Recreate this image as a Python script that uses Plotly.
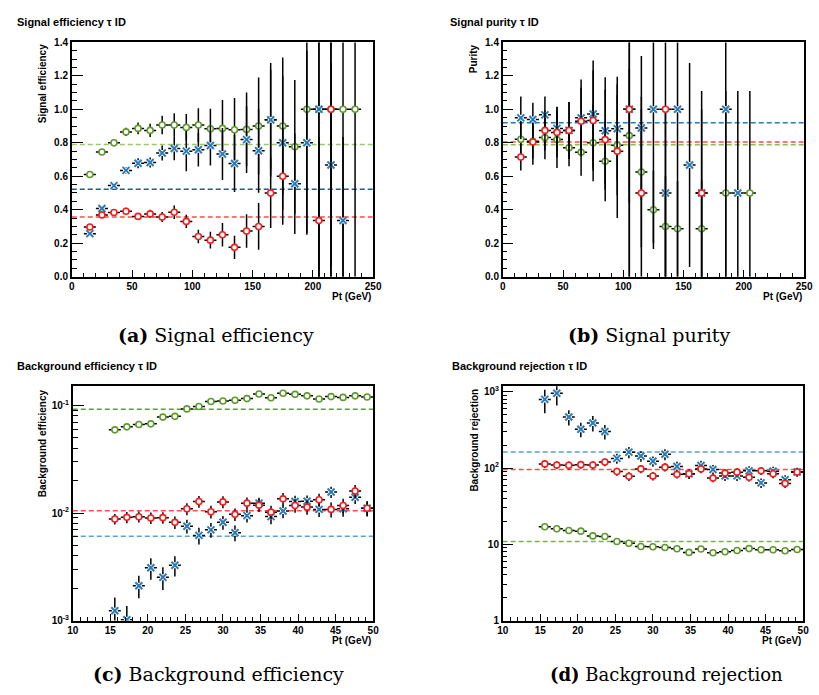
import plotly.graph_objects as go

# ---------------- data ----------------
# Signal efficiency vs Pt (GeV), bins of 10 GeV
eff_green_x = [15, 25, 35, 45, 55, 65, 75, 85, 95, 105, 115, 125, 135, 145, 155, 165, 175, 185, 195, 205, 215, 225, 235]
eff_green_y = [0.61, 0.745, 0.80, 0.865, 0.886, 0.874, 0.906, 0.906, 0.892, 0.906, 0.884, 0.886, 0.878, 0.88, 0.90, 0.937, 0.90, 0.776, 1.0, 1.0, 1.0, 1.0, 1.0]
eff_green_err = [0.02, 0.015, 0.02, 0.025, 0.035, 0.04, 0.055, 0.07, 0.08, 0.10, 0.12, 0.17, 0.19, 0.22, 0.29, 0.34, 0.41, 0.40, 0.74, 1.0, 1.0, 1.0, 1.0]
eff_blue_x = [15, 25, 35, 45, 55, 65, 75, 85, 95, 105, 115, 125, 135, 145, 155, 165, 175, 185, 195, 205, 215, 225]
eff_blue_y = [0.257, 0.407, 0.544, 0.635, 0.678, 0.682, 0.739, 0.766, 0.75, 0.758, 0.784, 0.733, 0.676, 0.819, 0.752, 0.937, 0.80, 0.555, 0.80, 1.0, 0.667, 0.335]
eff_blue_err = [0.01, 0.015, 0.015, 0.02, 0.03, 0.03, 0.045, 0.07, 0.12, 0.10, 0.12, 0.155, 0.17, 0.20, 0.25, 0.30, 0.40, 0.30, 0.55, 1.0, 0.61, 0.5]
eff_red_x = [15, 25, 35, 45, 55, 65, 75, 85, 95, 105, 115, 125, 135, 145, 155, 165, 175, 205, 215]
eff_red_y = [0.297, 0.369, 0.383, 0.391, 0.36, 0.375, 0.356, 0.385, 0.33, 0.24, 0.218, 0.25, 0.175, 0.273, 0.30, 0.50, 0.60, 0.335, 1.0]
eff_red_err = [0.01, 0.015, 0.015, 0.02, 0.02, 0.025, 0.03, 0.04, 0.04, 0.04, 0.05, 0.07, 0.07, 0.10, 0.14, 0.21, 0.29, 0.5, 1.0]
eff_mean = {"green": 0.79, "blue": 0.522, "red": 0.357}

# Signal purity vs Pt (GeV)
pur_green_x = [15, 25, 35, 45, 55, 65, 75, 85, 95, 105, 115, 125, 135, 145, 165, 185, 205]
pur_green_y = [0.821, 0.809, 0.831, 0.819, 0.77, 0.743, 0.80, 0.69, 0.786, 0.843, 0.625, 0.40, 0.30, 0.286, 0.286, 0.5, 0.5]
pur_green_err = [0.10, 0.14, 0.13, 0.17, 0.11, 0.14, 0.23, 0.24, 0.30, 0.40, 0.45, 0.235, 0.30, 0.286, 0.29, 0.61, 0.61]
pur_blue_x = [15, 25, 35, 45, 55, 65, 75, 85, 95, 105, 115, 125, 135, 145, 155, 165, 185, 195]
pur_blue_y = [0.949, 0.939, 0.967, 0.886, 0.874, 0.949, 0.972, 0.872, 0.884, 1.0, 0.888, 1.0, 0.5, 1.0, 0.667, 0.5, 1.0, 0.5]
pur_blue_err = [0.128, 0.10, 0.11, 0.13, 0.17, 0.23, 0.32, 0.32, 0.31, 1.0, 0.43, 0.8, 0.5, 1.0, 0.61, 0.5, 1.0, 0.61]
pur_red_x = [15, 25, 35, 45, 55, 65, 75, 85, 95, 105, 115, 135, 165]
pur_red_y = [0.715, 0.805, 0.874, 0.862, 0.874, 0.929, 0.933, 0.819, 0.75, 1.0, 0.5, 1.0, 0.5]
pur_red_err = [0.08, 0.10, 0.12, 0.15, 0.17, 0.20, 0.30, 0.30, 0.40, 1.0, 0.5, 1.0, 0.61]
pur_mean = {"green": 0.788, "blue": 0.92, "red": 0.805}

# Background efficiency / rejection vs Pt (GeV), bins of 1.6 GeV
bkg_x = [15.6, 17.2, 18.8, 20.4, 22.0, 23.6, 25.2, 26.8, 28.4, 30.0, 31.6,
         33.2, 34.8, 36.4, 38.0, 39.6, 41.2, 42.8, 44.4, 46.0, 47.6, 49.2]
beff_green_y = [0.0594, 0.0633, 0.0665, 0.0675, 0.078, 0.0793, 0.093, 0.098, 0.109, 0.110, 0.112,
                0.116, 0.128, 0.118, 0.130, 0.127, 0.123, 0.115, 0.121, 0.119, 0.123, 0.120]
beff_green_err = [0.002, 0.002, 0.002, 0.002, 0.0025, 0.0025, 0.003, 0.003, 0.0035, 0.0035, 0.0035,
                  0.004, 0.004, 0.004, 0.0045, 0.0045, 0.0045, 0.004, 0.0045, 0.0045, 0.0045, 0.0045]
beff_red_y = [0.00881, 0.00912, 0.00925, 0.0090, 0.00906, 0.0082, 0.01096, 0.0128, 0.01028, 0.0127, 0.00973,
              0.01236, 0.01184, 0.0102, 0.01355, 0.01177, 0.01136, 0.01328, 0.01081, 0.01177, 0.01603, 0.0111]
beff_red_err = [0.0010, 0.0011, 0.0011, 0.0011, 0.0011, 0.0011, 0.0014, 0.0016, 0.0014, 0.0016, 0.0013,
                0.0016, 0.0016, 0.0015, 0.0018, 0.0017, 0.0017, 0.0018, 0.0017, 0.0018, 0.0022, 0.0018]
beff_blue_y = [0.001236, 0.00102, 0.00211, 0.0031, 0.00253, 0.00327, 0.00755, 0.0062, 0.00698, 0.0082, 0.00656,
               0.00946, 0.01236, 0.00927, 0.01045, 0.0128, 0.01288, 0.01081, 0.0157, 0.01096, 0.01402, 0.0111]
beff_blue_err = [0.0004, 0.00035, 0.0005, 0.0007, 0.0006, 0.0007, 0.0011, 0.0011, 0.0011, 0.0012, 0.0011,
                 0.0013, 0.0015, 0.0014, 0.0015, 0.0017, 0.0017, 0.0016, 0.0019, 0.0017, 0.0019, 0.0017]
beff_mean = {"green": 0.0925, "blue": 0.0061, "red": 0.0105}

brej_blue_y = [796, 961, 467, 324, 391, 302, 134, 162, 144, 123, 152,
               105, 84, 108, 96, 79, 79, 92, 64, 91, 70.5, 89]
brej_blue_err = [270, 300, 105, 70, 90, 65, 20, 27, 23, 19, 25,
                 16, 12, 17, 14, 11, 11, 14, 9, 13, 10, 12]
brej_red_y = [113.5, 110, 109, 111, 110, 120, 90.3, 78, 97.7, 78.7, 103,
              82.8, 84.5, 97.7, 74, 86, 88.5, 75.7, 92, 84.5, 63, 89]
brej_red_err = [13, 13, 13, 13, 13, 14, 11, 10, 12, 10, 13,
                10, 11, 12, 9, 11, 11, 9, 11, 11, 8, 11]
brej_green_y = [17.0, 16.0, 15.2, 14.9, 12.9, 12.7, 10.9, 10.35, 9.37, 9.29, 9.1,
                8.75, 7.84, 8.7, 7.76, 8.0, 8.3, 8.8, 8.5, 8.5, 8.25, 8.57]
brej_green_err = [0.5, 0.5, 0.45, 0.45, 0.4, 0.4, 0.35, 0.32, 0.3, 0.3, 0.28,
                  0.27, 0.25, 0.27, 0.24, 0.25, 0.26, 0.27, 0.26, 0.26, 0.25, 0.26]
brej_mean = {"green": 10.9, "blue": 163, "red": 96}

sig_half_bin = 5.0
bkg_half_bin = 0.8
sig_xrange = [0, 250]
bkg_xrange = [10, 50]

# tick labels
sig_xticks = [0, 50, 100, 150, 200, 250]
sig_yticks = [0.0, 0.2, 0.4, 0.6, 0.8, 1.0, 1.2, 1.4]
bkg_xticks = [10, 15, 20, 25, 30, 35, 40, 45, 50]
beff_yticks = [0.001, 0.01, 0.1]
beff_ylabels = ["10<sup>-3</sup>", "10<sup>-2</sup>", "10<sup>-1</sup>"]
brej_yticks = [1, 10, 100, 1000]
brej_ylabels = ["1", "10", "10<sup>2</sup>", "10<sup>3</sup>"]

# ---------------- styles ----------------
W, H = 819, 695
GREEN, BLUE, RED = "#5f9b2c", "#2a7db8", "#ff1a1a"
FONT = "Liberation Sans"

fig = go.Figure()


def add_points(ax, x, y, err, half, kind):
    color = {"green": GREEN, "blue": BLUE, "red": RED}[kind]
    errs = dict(
        error_y=dict(type="data", array=err, color="black", thickness=1.5, width=0),
        error_x=dict(type="constant", value=half, color="black", thickness=1.5, width=0),
    )
    if kind == "blue":
        # error cross with a white patch at the centre, then the blue cross marker on top
        fig.add_trace(go.Scatter(
            x=x, y=y, mode="markers", xaxis="x" + ax, yaxis="y" + ax,
            marker=dict(symbol="square", size=6, color="white", line=dict(width=0)),
            showlegend=False, hoverinfo="skip", **errs))
        fig.add_trace(go.Scatter(
            x=x, y=y, mode="markers", xaxis="x" + ax, yaxis="y" + ax,
            marker=dict(symbol="x-thin", size=7, line=dict(color=color, width=2)),
            showlegend=False, hoverinfo="skip"))
    else:
        fig.add_trace(go.Scatter(
            x=x, y=y, mode="markers", xaxis="x" + ax, yaxis="y" + ax,
            marker=dict(symbol="circle", size=6, color="white", line=dict(color=color, width=1.6)),
            showlegend=False, hoverinfo="skip", **errs))


def add_mean(ax, xr, value, color):
    fig.add_trace(go.Scatter(
        x=xr, y=[value, value], mode="lines", xaxis="x" + ax, yaxis="y" + ax,
        line=dict(color=color, width=1.5, dash="5px,3px"),
        showlegend=False, hoverinfo="skip"))


# (a) signal efficiency
add_mean("", sig_xrange, eff_mean["green"], "#9cc86c")
add_mean("", sig_xrange, eff_mean["blue"], "#1f5d8c")
add_mean("", sig_xrange, eff_mean["red"], "#ff4a4a")
add_points("", eff_green_x, eff_green_y, eff_green_err, sig_half_bin, "green")
add_points("", eff_blue_x, eff_blue_y, eff_blue_err, sig_half_bin, "blue")
add_points("", eff_red_x, eff_red_y, eff_red_err, sig_half_bin, "red")

# (b) signal purity
add_mean("2", sig_xrange, pur_mean["blue"], "#2a78b2")
add_mean("2", sig_xrange, pur_mean["red"], "#ff4a4a")
add_mean("2", sig_xrange, pur_mean["green"], "#8cbf55")
add_points("2", pur_green_x, pur_green_y, pur_green_err, sig_half_bin, "green")
add_points("2", pur_blue_x, pur_blue_y, pur_blue_err, sig_half_bin, "blue")
add_points("2", pur_red_x, pur_red_y, pur_red_err, sig_half_bin, "red")

# (c) background efficiency
add_mean("3", bkg_xrange, beff_mean["green"], "#5f9f2c")
add_mean("3", bkg_xrange, beff_mean["red"], "#ff4a4a")
add_mean("3", bkg_xrange, beff_mean["blue"], "#5aa4d2")
add_points("3", bkg_x, beff_green_y, beff_green_err, bkg_half_bin, "green")
add_points("3", bkg_x, beff_blue_y, beff_blue_err, bkg_half_bin, "blue")
add_points("3", bkg_x, beff_red_y, beff_red_err, bkg_half_bin, "red")

# (d) background rejection
add_mean("4", bkg_xrange, brej_mean["blue"], "#5aa4d2")
add_mean("4", bkg_xrange, brej_mean["red"], "#ff4a4a")
add_mean("4", bkg_xrange, brej_mean["green"], "#7fae50")
add_points("4", bkg_x, brej_green_y, brej_green_err, bkg_half_bin, "green")
add_points("4", bkg_x, brej_blue_y, brej_blue_err, bkg_half_bin, "blue")
add_points("4", bkg_x, brej_red_y, brej_red_err, bkg_half_bin, "red")

# ---------------- axes ----------------
def px_x(a, b):
    return [a / W, b / W]


def px_y(top, bottom):
    return [1 - bottom / H, 1 - top / H]


def bold(labels):
    return ["<b>%s</b>" % s for s in labels]


tickfont = dict(family=FONT, size=10, color="black")
frame = dict(showline=True, mirror=True, linecolor="black", linewidth=1.5,
             showgrid=False, zeroline=False, ticks="inside", tickcolor="black",
             tickwidth=1, tickfont=tickfont, tickmode="array")

panels = {
    "": dict(x=px_x(67, 374), y=px_y(38, 276)),
    "2": dict(x=px_x(506, 813), y=px_y(38, 276)),
    "3": dict(x=px_x(68, 374), y=px_y(387.5, 625.5)),
    "4": dict(x=px_x(506, 812), y=px_y(387.5, 625.5)),
}

for ax in ("", "2"):
    fig.update_layout({
        "xaxis" + ax: dict(frame, domain=panels[ax]["x"], range=sig_xrange, ticklen=7,
                           tickvals=sig_xticks, ticktext=bold(["%d" % v for v in sig_xticks]),
                           anchor="y" + ax,
                           minor=dict(ticks="inside", tickmode="linear", tick0=0, dtick=10,
                                      ticklen=4, tickcolor="black")),
        "yaxis" + ax: dict(frame, domain=panels[ax]["y"], range=[0, 1.4], ticklen=11,
                           tickvals=sig_yticks, ticktext=bold(["%.1f" % v for v in sig_yticks]),
                           anchor="x" + ax,
                           minor=dict(ticks="inside", tickmode="linear", tick0=0, dtick=0.05,
                                      ticklen=5, tickcolor="black")),
    })

log_minor = [m * 10.0 ** e for e in range(-3, 3) for m in range(2, 10)]
for ax in ("3", "4"):
    fig.update_layout({
        "xaxis" + ax: dict(frame, domain=panels[ax]["x"], range=bkg_xrange, ticklen=7,
                           tickvals=bkg_xticks, ticktext=bold(["%d" % v for v in bkg_xticks]),
                           anchor="y" + ax,
                           minor=dict(ticks="inside", tickmode="linear", tick0=10, dtick=1,
                                      ticklen=4, tickcolor="black")),
    })

fig.update_layout(
    yaxis3=dict(frame, domain=panels["3"]["y"], type="log", range=[-3, -0.822], anchor="x3",
                tickvals=beff_yticks, ticktext=bold(beff_ylabels), ticklen=11,
                minor=dict(ticks="inside", tickmode="array", tickvals=log_minor, ticklen=5, tickcolor="black")),
    yaxis4=dict(frame, domain=panels["4"]["y"], type="log", range=[0, 3.072], anchor="x4",
                tickvals=brej_yticks, ticktext=bold(brej_ylabels), ticklen=11,
                minor=dict(ticks="inside", tickmode="array", tickvals=log_minor, ticklen=5, tickcolor="black")),
)

# ---------------- text ----------------
ann = []


def text(x, y, s, size, xanchor="center", yanchor="middle", angle=0, family=FONT, weight="bold"):
    ann.append(dict(x=x / W, y=1 - y / H, xref="paper", yref="paper", text=s, showarrow=False,
                    xanchor=xanchor, yanchor=yanchor, textangle=angle,
                    font=dict(family=family, size=size, color="black", weight=weight)))


# panel titles
text(9, 17, "Signal efficiency τ ID", 11, xanchor="left")
text(450, 17, "Signal purity τ ID", 11, xanchor="left")
text(9, 367, "Background efficiency τ ID", 11, xanchor="left")
text(452, 367, "Background rejection τ ID", 11, xanchor="left")

# y-axis titles, aligned with the top of each frame
text(38, 38, "Signal efficiency", 10, yanchor="top", angle=-90)
text(477, 38, "Purity", 10, yanchor="top", angle=-90)
text(38, 388, "Background efficiency", 10, yanchor="top", angle=-90)
text(477, 388, "Background rejection", 10, yanchor="top", angle=-90)

# x-axis titles, aligned with the right of each frame
text(374, 296, "Pt (GeV)", 10, xanchor="right")
text(813, 296, "Pt (GeV)", 10, xanchor="right")
text(374, 646, "Pt (GeV)", 10, xanchor="right")
text(812, 646, "Pt (GeV)", 10, xanchor="right")

# sub-figure captions
CAP = "DejaVu Serif"
text(214, 335, "<b>(a)</b> Signal efficiency", 19, family=CAP, weight="normal")
text(655, 335, "<b>(b)</b> Signal purity", 19, family=CAP, weight="normal")
text(216, 680, "<b>(c)</b> Background efficiency", 19, family=CAP, weight="normal")
text(673, 680, "<b>(d)</b> Background rejection", 18, family=CAP, weight="normal")

fig.update_layout(
    width=W, height=H, margin=dict(l=0, r=0, t=0, b=0),
    paper_bgcolor="white", plot_bgcolor="white",
    annotations=ann, showlegend=False,
)

fig.write_html("out.html")
